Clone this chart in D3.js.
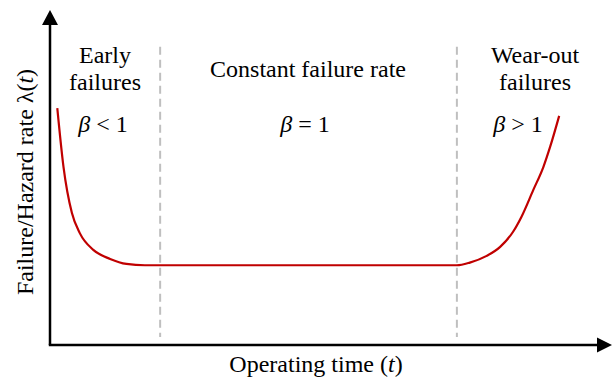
<!DOCTYPE html>
<html>
<head>
<meta charset="utf-8">
<script src="https://cdn.jsdelivr.net/npm/d3@7"></script>
<style>
  body { margin: 0; background: #ffffff; }
</style>
</head>
<body>
<div class="chart"></div>
<script>
var w = 613;
var h = 380;
var serif = "'Liberation Serif', 'Times New Roman', Times, serif";

// bathtub curve (x: operating time, y: hazard rate, both 0-100)
var time = [1.3, 2.4, 3.9, 5.3, 7.7, 10.7, 13.6, 16.9, 19.6, 72.4, 74.7, 77.7, 80.1, 82.4, 83.9, 86.0, 87.8, 89.0, 90.6];
var rate = [70.7, 53.2, 39.4, 33.4, 28.4, 25.7, 24.2, 23.8, 23.8, 23.8, 24.6, 26.6, 29.3, 33.8, 38.3, 46.3, 53.2, 59.2, 68.4];

// phase boundaries
var boundaries = [19.6, 72.4];

// phase labels
var phaseNames = [["Early", "failures"], ["Constant failure rate"], ["Wear-out", "failures"]];
var phaseBeta = ["<", "=", ">"];

var colorCurve = "#c00000";
var colorDash = "#bfbfbf";

var svg = d3.select(".chart")
    .append("svg")
    .attr("width", w)
    .attr("height", h);

var x = d3.scaleLinear().domain([0, 100]).range([50, 612]);
var y = d3.scaleLinear().domain([0, 100]).range([345, 10]);

// dashed boundaries
svg.selectAll(".bound")
    .data(boundaries)
    .enter()
    .append("line")
    .attr("class", "bound")
    .attr("x1", function(d) { return x(d); })
    .attr("x2", function(d) { return x(d); })
    .attr("y1", y(89))
    .attr("y2", y(2.4))
    .attr("stroke", colorDash)
    .attr("stroke-width", 2)
    .attr("stroke-dasharray", "8,5");

// curve
var line = d3.line()
    .x(function(d, i) { return x(time[i]); })
    .y(function(d) { return y(d); })
    .curve(d3.curveMonotoneX);

svg.append("path")
    .datum(rate)
    .attr("d", line)
    .attr("fill", "none")
    .attr("stroke", colorCurve)
    .attr("stroke-width", 2.2);

// axes with arrows
svg.append("line")
    .attr("x1", x(0))
    .attr("y1", y(0))
    .attr("x2", x(0))
    .attr("y2", y(96))
    .attr("stroke", "#000")
    .attr("stroke-width", 2.5);

svg.append("line")
    .attr("x1", x(0) - 1.2)
    .attr("y1", y(0))
    .attr("x2", x(97.6))
    .attr("y2", y(0))
    .attr("stroke", "#000")
    .attr("stroke-width", 2.5);

svg.append("path")
    .attr("d", "M" + x(0) + "," + y(100) + " L" + (x(0) - 8) + "," + (y(100) + 15) + " L" + (x(0) + 8) + "," + (y(100) + 15) + " Z")
    .attr("fill", "#000");

svg.append("path")
    .attr("d", "M" + x(100) + "," + y(0) + " L" + (x(100) - 15) + "," + (y(0) - 7.5) + " L" + (x(100) - 15) + "," + (y(0) + 7.5) + " Z")
    .attr("fill", "#000");

// phase labels
var labelX = [105, 308, 535];
var labelY = [[63, 90], [77], [63, 90]];
var betaX = [103, 305, 518];

phaseNames.forEach(function(lines, i) {
    lines.forEach(function(s, j) {
        svg.append("text")
            .attr("x", labelX[i])
            .attr("y", labelY[i][j])
            .attr("text-anchor", "middle")
            .style("font-family", serif)
            .style("font-size", "24px")
            .attr("fill", "#000")
            .text(s);
    });
    var t = svg.append("text")
        .attr("x", betaX[i])
        .attr("y", 132)
        .attr("text-anchor", "middle")
        .style("font-family", serif)
        .style("font-size", "24px")
        .attr("fill", "#000");
    t.append("tspan").style("font-style", "italic").text("\u03b2");
    t.append("tspan").text(" " + phaseBeta[i] + " 1");
});

// axis titles
var xt = svg.append("text")
    .attr("x", 316)
    .attr("y", 372)
    .attr("text-anchor", "middle")
    .style("font-family", serif)
    .style("font-size", "24px")
    .attr("fill", "#000");
xt.append("tspan").text("Operating time (");
xt.append("tspan").style("font-style", "italic").text("t");
xt.append("tspan").text(")");

var yt = svg.append("text")
    .attr("transform", "translate(33,182) rotate(-90)")
    .attr("text-anchor", "middle")
    .style("font-family", serif)
    .style("font-size", "24px")
    .attr("fill", "#000");
yt.append("tspan").text("Failure/Hazard rate \u03bb(");
yt.append("tspan").style("font-style", "italic").text("t");
yt.append("tspan").text(")");
</script>
</body>
</html>
